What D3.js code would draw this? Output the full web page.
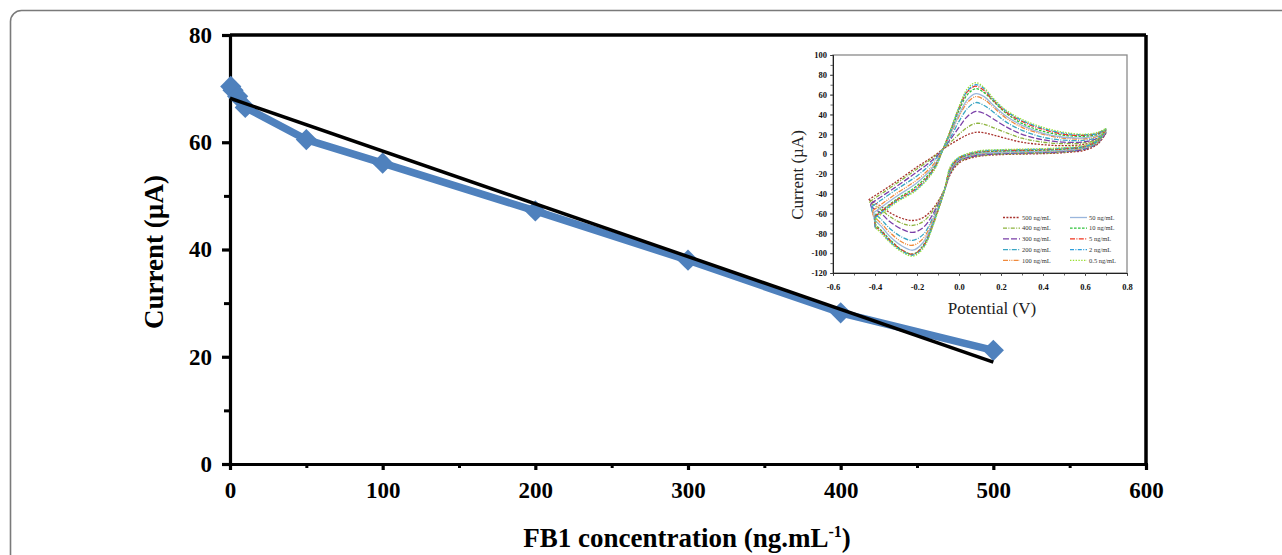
<!DOCTYPE html>
<html>
<head>
<meta charset="utf-8">
<script src="https://cdn.jsdelivr.net/npm/d3@7"></script>
<style>
  html, body { margin: 0; padding: 0; background: #fff; }
  svg { display: block; }
  text { font-family: "Liberation Serif", "Times New Roman", serif; }
</style>
</head>
<body>
<svg id="chart" width="1282" height="555"></svg>
<script>
// ---- Calibration data: peak current vs FB1 concentration ----
const concentrations = [0.5, 2, 5, 10, 50, 100, 200, 300, 400, 500];
const peakCurrents   = [70.4, 69.7, 68.6, 66.5, 60.5, 56.1, 47.2, 38.0, 28.2, 21.2];
// linear fit end points
const fitX = [0, 500];
const fitY = [68.2, 19.0];
const xTicks = [0, 100, 200, 300, 400, 500, 600];
const yTicks = [0, 20, 40, 60, 80];

// ---- Inset: cyclic voltammograms ----
const cvLabels = ["500 ng/mL", "400 ng/mL", "300 ng/mL", "200 ng/mL", "100 ng/mL",
                  "50 ng/mL", "10 ng/mL", "5 ng/mL", "2 ng/mL", "0.5 ng/mL"];
const cvColors = ["#a8322d", "#8cb33c", "#7a3fa8", "#3aa6c4", "#f08a3c",
                  "#9ab6dc", "#2ec23a", "#f0331c", "#2f9fdc", "#9be035"];
const cvDashes = ["2,1.4", "4,1.4,1,1.4", "6,2", "5,1.4,1,1.4", "5,1.2,1,1.2,1,1.2",
                  null, "2.6,1.4", "5,1.4,1,1.4", "4,1.4,1,1.4", "1.4,1.4"];
// switching potential at the negative end of each scan (V)
const vertexE = [-0.43, -0.425, -0.42, -0.415, -0.41, -0.405, -0.40, -0.40, -0.40, -0.395];
// potentials of the forward (anodic) scan after the vertex, and of the reverse scan
const anodicE   = [-0.3, -0.2, -0.12, -0.076, -0.04, 0.0, 0.04, 0.08, 0.12, 0.16, 0.22, 0.3, 0.4, 0.5, 0.6, 0.66, 0.70];
const cathodicE = [0.70, 0.66, 0.6, 0.5, 0.4, 0.3, 0.2, 0.1, 0.04, 0.0, -0.04, -0.07, -0.12, -0.17, -0.22, -0.27, -0.33, -0.37];
// anodic currents (µA): first value at the vertex, then one per anodicE
const anodic500 = [-46, -28, -13, -2, 5, 10, 15, 19.5, 22, 21.5, 19.5, 16, 12, 9.5, 8.5, 10, 14, 21];
const anodic400 = [-48, -30, -15, -3, 5, 12, 20, 27, 31, 30, 27, 22, 16, 12, 10.5, 11.5, 15, 22];
const anodic300 = [-50, -33, -18, -5, 5, 15, 27, 38, 43, 41, 36, 28, 20, 14.5, 12, 12.5, 16, 22];
const anodic200 = [-53, -36, -22, -7, 5, 17, 33, 46, 52, 49, 43, 33, 24, 17, 14, 14, 17, 23];
const anodic100 = [-57, -40, -26, -10, 5, 20, 38, 52, 58, 55, 48, 37, 27, 20, 16, 15.5, 18, 24];
const anodic50  = [-59, -43, -29, -12, 5, 21, 40, 55, 61, 58, 50, 39, 29, 21, 17, 16.5, 19, 24];
const anodic10  = [-62, -46, -32, -14, 5, 23, 44, 60, 66, 62, 54, 42, 31, 23, 19, 18, 20, 25];
const anodic5   = [-63, -47, -34, -15, 5, 24, 46, 63, 68.5, 64, 55, 43, 33, 25, 20, 19, 21, 25];
const anodic2   = [-64, -48, -35, -16, 5, 24, 47, 64, 70, 66, 56, 44, 34, 26, 21, 19.5, 21, 26];
const anodic05  = [-65, -49, -36, -17, 5, 25, 48, 66, 72, 67, 57, 45, 35, 27, 22, 20, 22, 26];
// cathodic currents (µA): one per cathodicE, last value at the vertex
const cathodic500 = [21, 10, 4, 1.5, 0.5, 0, -0.5, -2, -5, -9, -20, -36, -54, -64, -67, -65, -59, -53, -46];
const cathodic400 = [22, 11, 5, 2, 1, 0.5, 0, -1.5, -4, -8, -19, -36, -56, -68, -72, -70, -63, -56, -49];
const cathodic300 = [22, 11, 5, 2.5, 1.5, 1, 0.5, -1, -3.5, -7, -18, -37, -59, -74, -79, -76, -68, -60, -53];
const cathodic200 = [23, 12, 6, 3, 2, 1.5, 1, 0, -2.5, -6, -17, -37, -62, -81, -87, -84, -75, -66, -58];
const cathodic100 = [24, 12, 6.5, 3.5, 2.5, 2, 1.5, 0.5, -2, -5.5, -16, -37, -64, -85, -92, -89, -79, -70, -62];
const cathodic50  = [24, 13, 7, 4, 3, 2.5, 2, 1, -1.5, -5, -15, -37, -66, -89, -97, -93, -83, -73, -66];
const cathodic10  = [25, 13, 7.5, 5, 4, 3.5, 3, 2, -1, -4.5, -14, -37, -68, -92, -101, -97, -86, -77, -71];
const cathodic5   = [25, 14, 8, 5.5, 4.5, 4, 3.5, 2.5, -0.5, -4, -14, -37, -69, -93, -101, -97, -87, -78, -73];
const cathodic2   = [26, 14, 8, 6, 5, 4.5, 4, 3, 0, -3.5, -13, -37, -69, -94, -102, -98, -88, -79, -74];
const cathodic05  = [26, 15, 9, 6.5, 5.5, 5, 4.5, 3.5, 0.5, -3, -12, -37, -70, -95, -103, -99, -89, -80, -75];
const anodicSeries   = [anodic500, anodic400, anodic300, anodic200, anodic100, anodic50, anodic10, anodic5, anodic2, anodic05];
const cathodicSeries = [cathodic500, cathodic400, cathodic300, cathodic200, cathodic100, cathodic50, cathodic10, cathodic5, cathodic2, cathodic05];
const insetXTicks = [-0.6, -0.4, -0.2, 0.0, 0.2, 0.4, 0.6, 0.8];
const insetYTicks = [-120, -100, -80, -60, -40, -20, 0, 20, 40, 60, 80, 100];

const svg = d3.select("#chart");
const serif = '"Liberation Serif", "Times New Roman", serif';

// outer panel frame with a rounded corner
svg.append("rect")
  .attr("x", 10.5).attr("y", 10.5).attr("width", 1400).attr("height", 700)
  .attr("rx", 11).attr("fill", "none").attr("stroke", "#7a7a7a").attr("stroke-width", 1.6);

// ---------- main chart ----------
const x = d3.scaleLinear().domain([0, 600]).range([230, 1146]);
const y = d3.scaleLinear().domain([0, 80]).range([464, 35]);

const g = svg.append("g");

function styleAxis(sel, width) {
  sel.select(".domain").attr("stroke", "#000").attr("stroke-width", width);
  sel.selectAll(".tick line").attr("stroke", "#000").attr("stroke-width", width);
  sel.selectAll(".tick text").attr("fill", "#000").attr("font-family", serif);
}

// minor ticks
g.append("g").attr("transform", `translate(0,${y(0)})`)
  .call(d3.axisBottom(x).tickValues(d3.range(50, 600, 100)).tickSize(4).tickFormat(""))
  .call(s => styleAxis(s, 3));
g.append("g").attr("transform", `translate(${x(0)},0)`)
  .call(d3.axisLeft(y).tickValues(d3.range(10, 80, 20)).tickSize(6).tickFormat(""))
  .call(s => styleAxis(s, 3));

// frame top and right
g.append("line").attr("x1", x(0)).attr("x2", x(600)).attr("y1", y(80)).attr("y2", y(80))
  .attr("stroke", "#000").attr("stroke-width", 3.5);
g.append("line").attr("x1", x(600)).attr("x2", x(600)).attr("y1", y(80)).attr("y2", y(0))
  .attr("stroke", "#000").attr("stroke-width", 3.5);

const xAxis = g.append("g").attr("transform", `translate(0,${y(0)})`)
  .call(d3.axisBottom(x).tickValues(xTicks).tickSize(6).tickPadding(12).tickSizeOuter(0))
  .call(s => styleAxis(s, 3.2));
xAxis.selectAll(".tick text").attr("font-size", 23).attr("font-weight", "bold");

const yAxis = g.append("g").attr("transform", `translate(${x(0)},0)`)
  .call(d3.axisLeft(y).tickValues(yTicks).tickSize(8).tickPadding(10).tickSizeOuter(0))
  .call(s => styleAxis(s, 3.2));
yAxis.selectAll(".tick text").attr("font-size", 23).attr("font-weight", "bold");

// axis titles
const xTitle = g.append("text")
  .attr("x", 687).attr("y", 547).attr("text-anchor", "middle")
  .attr("font-size", 27).attr("font-weight", "bold").attr("fill", "#000");
xTitle.append("tspan").text("FB1 concentration (ng.mL");
xTitle.append("tspan").attr("dy", -10).attr("font-size", 16).text("-1");
xTitle.append("tspan").attr("dy", 10).text(")");

g.append("text")
  .attr("transform", "translate(163,252) rotate(-90)")
  .attr("text-anchor", "middle").attr("font-size", 27).attr("font-weight", "bold")
  .attr("fill", "#000").text("Current (µA)");

// calibration series
const pts = concentrations.map((c, i) => [c, peakCurrents[i]]);
g.append("path")
  .datum(pts)
  .attr("d", d3.line().x(d => x(d[0])).y(d => y(d[1])))
  .attr("fill", "none").attr("stroke", "#4f81bd").attr("stroke-width", 7.5)
  .attr("stroke-linejoin", "round");
g.selectAll(".pt").data(pts).join("path")
  .attr("class", "pt")
  .attr("transform", d => `translate(${x(d[0])},${y(d[1])}) rotate(45)`)
  .attr("d", d3.symbol(d3.symbolSquare, 225))
  .attr("fill", "#4f81bd");

// linear fit
g.append("path")
  .datum(fitX.map((v, i) => [v, fitY[i]]))
  .attr("d", d3.line().x(d => x(d[0])).y(d => y(d[1])))
  .attr("stroke", "#000").attr("stroke-width", 3.5).attr("fill", "none");

// ---------- inset ----------
const ix = d3.scaleLinear().domain([-0.6, 0.8]).range([833, 1127]);
const iy = d3.scaleLinear().domain([-120, 100]).range([273, 55]);
const ins = svg.append("g");

ins.append("rect")
  .attr("x", ix(-0.6)).attr("y", iy(100)).attr("width", ix(0.8) - ix(-0.6)).attr("height", iy(-120) - iy(100))
  .attr("fill", "#fff").attr("stroke", "#8a8a8a").attr("stroke-width", 1.3);

function styleInset(sel) {
  sel.select(".domain").attr("stroke", "#222").attr("stroke-width", 1);
  sel.selectAll(".tick line").attr("stroke", "#444").attr("stroke-width", 0.8);
  sel.selectAll(".tick text").attr("fill", "#111").attr("font-family", serif)
    .attr("font-size", 8.5).attr("font-weight", "bold");
}
ins.append("g").attr("transform", `translate(0,${iy(-120)})`)
  .call(d3.axisBottom(ix).tickValues(d3.range(-5, 8, 1).map(v => v / 10)).tickSize(2.5).tickFormat(""))
  .call(styleInset);
ins.append("g").attr("transform", `translate(${ix(-0.6)},0)`)
  .call(d3.axisLeft(iy).tickValues(d3.range(-110, 100, 10)).tickSize(2.5).tickFormat(""))
  .call(styleInset);
ins.append("g").attr("transform", `translate(0,${iy(-120)})`)
  .call(d3.axisBottom(ix).tickValues(insetXTicks).tickSize(3).tickPadding(8).tickFormat(d => d.toFixed(1)).tickSizeOuter(0))
  .call(styleInset);
ins.append("g").attr("transform", `translate(${ix(-0.6)},0)`)
  .call(d3.axisLeft(iy).tickValues(insetYTicks).tickSize(3).tickPadding(3).tickFormat(d => String(d)).tickSizeOuter(0))
  .call(styleInset);

ins.append("text")
  .attr("transform", `translate(803,${(iy(100) + iy(-120)) / 2 + 11}) rotate(-90)`)
  .attr("text-anchor", "middle").attr("font-size", 17).attr("fill", "#222").text("Current (µA)");
ins.append("text")
  .attr("x", 992).attr("y", 314).attr("text-anchor", "middle")
  .attr("font-size", 17).attr("fill", "#222").text("Potential (V)");

const cvLine = d3.line().x(d => ix(d[0])).y(d => iy(d[1])).curve(d3.curveCatmullRom.alpha(0.5));
const cvGroup = ins.append("g");
cvLabels.forEach((lab, k) => {
  const a = anodicSeries[k], c = cathodicSeries[k];
  const fwd = [[vertexE[k], a[0]]].concat(anodicE.map((e, i) => [e, a[i + 1]]));
  const rev = cathodicE.map((e, i) => [e, c[i]]).concat([[vertexE[k], c[c.length - 1]]]);
  const back = [[vertexE[k], c[c.length - 1]], [vertexE[k], a[0]]];
  [fwd, rev, back].forEach(seg => {
    cvGroup.append("path").datum(seg)
      .attr("d", seg.length > 2 ? cvLine(seg) : d3.line().x(d => ix(d[0])).y(d => iy(d[1]))(seg))
      .attr("fill", "none").attr("stroke", cvColors[k]).attr("stroke-width", 1.3)
      .attr("stroke-dasharray", cvDashes[k]);
  });
});

// legend: two columns of five
const leg = ins.append("g");
cvLabels.forEach((lab, k) => {
  const col = Math.floor(k / 5), row = k % 5;
  const lx = col === 0 ? 1003 : 1070;
  const ly = 217.5 + row * 10.7;
  leg.append("line").attr("x1", lx).attr("x2", lx + 17).attr("y1", ly).attr("y2", ly)
    .attr("stroke", cvColors[k]).attr("stroke-width", 1.3).attr("stroke-dasharray", cvDashes[k]);
  leg.append("text").attr("x", lx + 19).attr("y", ly + 2.2)
    .attr("font-size", 6.5).attr("fill", "#333").text(lab);
});
</script>
</body>
</html>
